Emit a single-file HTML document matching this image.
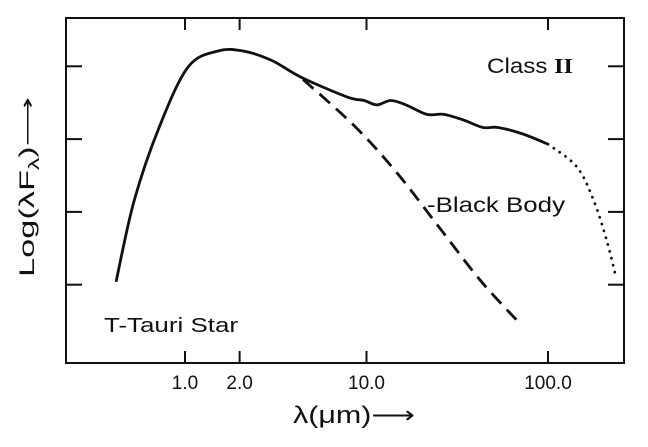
<!DOCTYPE html>
<html><head><meta charset="utf-8"><style>
body{margin:0;background:#fff}
svg text{font-family:"Liberation Sans",sans-serif;fill:#111}
</style></head><body>
<svg id="chart" width="648" height="442" viewBox="0 0 648 442" xmlns="http://www.w3.org/2000/svg">
<rect x="66" y="18" width="558" height="345" fill="none" stroke="#111" stroke-width="2"/>
<g id="ticks"></g>
<g id="series"></g>
<text x="487" y="73" font-size="21" textLength="86" lengthAdjust="spacingAndGlyphs">Class <tspan font-family="Liberation Serif" font-weight="bold">II</tspan></text>
<text x="427" y="212" font-size="21" textLength="138" lengthAdjust="spacingAndGlyphs">-Black Body</text>
<text x="104" y="332" font-size="20" textLength="134" lengthAdjust="spacingAndGlyphs">T-Tauri Star</text>
<text x="293" y="423" font-size="24" textLength="122" lengthAdjust="spacingAndGlyphs">λ(μm)⟶</text>
<text transform="translate(34,277) rotate(-90)" font-size="21" textLength="180" lengthAdjust="spacingAndGlyphs">Log(λF<tspan font-size="15" dy="5">λ</tspan><tspan dy="-5">)⟶</tspan></text>
</svg>
<script>
const xTickValues=[1,2,10,100];
const xTickLabels=["1.0","2.0","10.0","100.0"];
const yTickValues=[1,2,3,4];
const sedLam=[0.417,0.524,0.72,1.04,1.52,2.09,3.01,4.36,7.8,9.7,11.4,13.6,16.5,21.5,26.7,34.4,43.8,53,72.8,100];
const sedFlux=[1.04,2.15,3.16,3.99,4.21,4.21,4.08,3.85,3.58,3.53,3.47,3.53,3.47,3.34,3.34,3.26,3.16,3.16,3.07,2.93];
const extLam=[100,144,179,211,234];
const extFlux=[2.93,2.62,2.15,1.60,1.16];
const bbLam=[4.47,8.75,14.9,25.1,42.7,69.2];
const bbFlux=[3.82,3.16,2.52,1.79,1.05,0.48];

const X=l=>185+Math.log10(l)*181.5;
const Y=v=>357.5-v*72.8;
const NS="http://www.w3.org/2000/svg";
function path(xs,ys){
  const p=xs.map((l,i)=>[X(l),Y(ys[i])]);
  let d="M"+p[0][0]+","+p[0][1];
  for(let i=0;i<p.length-1;i++){
    const p0=p[Math.max(0,i-1)],p1=p[i],p2=p[i+1],p3=p[Math.min(p.length-1,i+2)];
    d+=" C"+(p1[0]+(p2[0]-p0[0])/6)+","+(p1[1]+(p2[1]-p0[1])/6)+" "+(p2[0]-(p3[0]-p1[0])/6)+","+(p2[1]-(p3[1]-p1[1])/6)+" "+p2[0]+","+p2[1];
  }
  return d;
}
const ticks=document.getElementById('ticks');
function line(x1,y1,x2,y2){const l=document.createElementNS(NS,'line');
l.setAttribute('x1',x1);l.setAttribute('y1',y1);l.setAttribute('x2',x2);l.setAttribute('y2',y2);
l.setAttribute('stroke','#111');l.setAttribute('stroke-width','2');


ticks.appendChild(l);}
xTickValues.forEach((v,i)=>{const x=X(v);line(x,363,x,351);line(x,18,x,30);
 const t=document.createElementNS(NS,'text');t.setAttribute('x',x);t.setAttribute('y',389);
 t.setAttribute('text-anchor','middle');t.setAttribute('font-size','19');t.textContent=xTickLabels[i];
 
 
 ticks.appendChild(t);});
yTickValues.forEach(v=>{const y=Y(v);line(66,y,82,y);line(608,y,624,y);});
const g=document.getElementById('series');
function addPath(d,dash,name){const p=document.createElementNS(NS,'path');p.setAttribute('d',d);
p.setAttribute('fill','none');p.setAttribute('stroke','#111');p.setAttribute('stroke-width','2.8');
if(dash)p.setAttribute('stroke-dasharray',dash);
if(name==='extrapolation')p.setAttribute('stroke-linecap','round');


g.appendChild(p);}
addPath(path(sedLam,sedFlux),null,'sed-curve');
addPath(path(extLam,extFlux),'0.1 7','extrapolation');
addPath(path(bbLam,bbFlux),'14 8','black-body-curve');
</script>
</body></html>
